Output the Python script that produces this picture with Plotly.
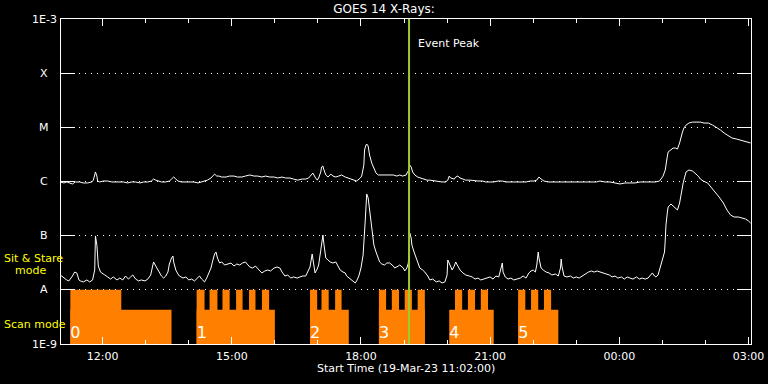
import math
import pandas as pd
import plotly.graph_objects as go

# ---------------- data (times in minutes after 2023-03-19 11:00 UT) ----------------
START = pd.Timestamp("2023-03-19 11:00:00")

long_min = [1, 6, 10, 14, 18, 22, 28, 33, 39, 45,
            47, 49, 50, 52, 53, 56, 61, 67, 73, 78,
            84, 89, 95, 100, 106, 112, 117, 123, 128, 131,
            134, 137, 142, 148, 153, 156, 159, 162, 165, 170,
            176, 181, 187, 193, 198, 204, 206, 211, 213, 216,
            219, 222, 226, 232, 237, 243, 248, 254, 259, 265,
            271, 276, 282, 287, 293, 299, 304, 310, 315, 321,
            326, 332, 338, 343, 347, 350, 353, 356, 359, 361,
            364, 365, 367, 368, 371, 374, 377, 378, 381, 385,
            389, 393, 398, 402, 406, 410, 414, 419, 421, 424,
            425, 427, 428, 430, 432, 435, 438, 441, 444, 448,
            453, 459, 465, 470, 474, 478, 483, 485, 487, 488,
            490, 492, 495, 499, 504, 508, 512, 516, 522, 527,
            533, 538, 541, 543, 545, 550, 552, 555, 558, 562,
            566, 572, 578, 583, 589, 594, 600, 605, 611, 617,
            622, 628, 633, 639, 644, 650, 656, 661, 665, 668,
            671, 675, 681, 686, 692, 698, 706, 714, 723, 731,
            739, 748, 753, 760, 767, 774, 781, 788, 795, 802,
            809, 816, 823, 830, 836, 838, 841, 844, 845, 847,
            848, 851, 855, 858, 861, 864, 866, 868, 870, 873,
            877, 882, 887, 893, 898, 904, 910, 915, 921, 926,
            932, 937, 943, 949, 954, 960, 963]
long_flux = [9.8e-7, 9.4e-7, 9.8e-7, 9.4e-7, 9.0e-7, 9.8e-7, 9.8e-7, 9.4e-7, 9.4e-7, 9.8e-7,
             1.06e-6, 1.32e-6, 1.50e-6, 1.26e-6, 1.02e-6, 9.8e-7, 1.02e-6, 1.02e-6, 9.8e-7, 9.8e-7,
             9.8e-7, 9.8e-7, 9.4e-7, 9.8e-7, 9.8e-7, 9.4e-7, 9.8e-7, 9.8e-7, 1.02e-6, 1.11e-6,
             1.06e-6, 1.02e-6, 9.8e-7, 9.8e-7, 1.02e-6, 1.11e-6, 1.21e-6, 1.11e-6, 1.02e-6, 9.8e-7,
             9.8e-7, 9.8e-7, 9.8e-7, 9.4e-7, 9.8e-7, 1.02e-6, 1.06e-6, 1.16e-6, 1.26e-6, 1.37e-6,
             1.26e-6, 1.26e-6, 1.21e-6, 1.21e-6, 1.26e-6, 1.26e-6, 1.21e-6, 1.21e-6, 1.26e-6, 1.32e-6,
             1.26e-6, 1.26e-6, 1.21e-6, 1.26e-6, 1.21e-6, 1.21e-6, 1.16e-6, 1.21e-6, 1.16e-6, 1.16e-6,
             1.11e-6, 1.06e-6, 1.11e-6, 1.11e-6, 1.16e-6, 1.26e-6, 1.43e-6, 1.21e-6, 1.06e-6, 1.16e-6,
             1.50e-6, 1.85e-6, 1.93e-6, 1.70e-6, 1.32e-6, 1.21e-6, 1.32e-6, 1.37e-6, 1.26e-6, 1.21e-6,
             1.26e-6, 1.32e-6, 1.21e-6, 1.16e-6, 1.11e-6, 1.06e-6, 1.02e-6, 1.16e-6, 1.26e-6, 2.01e-6,
             3.81e-6, 4.72e-6, 4.92e-6, 4.52e-6, 3.08e-6, 2.19e-6, 1.70e-6, 1.43e-6, 1.32e-6, 1.32e-6,
             1.32e-6, 1.32e-6, 1.32e-6, 1.26e-6, 1.32e-6, 1.26e-6, 1.32e-6, 1.50e-6, 1.63e-6, 2.01e-6,
             1.85e-6, 1.50e-6, 1.32e-6, 1.21e-6, 1.16e-6, 1.11e-6, 1.06e-6, 1.06e-6, 1.02e-6, 1.02e-6,
             9.8e-7, 9.8e-7, 1.06e-6, 1.26e-6, 1.16e-6, 1.11e-6, 1.21e-6, 1.26e-6, 1.16e-6, 1.11e-6,
             1.06e-6, 1.06e-6, 1.02e-6, 1.02e-6, 1.02e-6, 9.8e-7, 9.8e-7, 9.8e-7, 1.02e-6, 1.02e-6,
             9.8e-7, 9.8e-7, 9.8e-7, 9.8e-7, 9.8e-7, 9.8e-7, 1.02e-6, 1.02e-6, 1.06e-6, 1.21e-6,
             1.11e-6, 1.02e-6, 9.8e-7, 9.8e-7, 9.8e-7, 9.8e-7, 9.8e-7, 9.8e-7, 9.8e-7, 9.8e-7,
             9.8e-7, 9.8e-7, 1.02e-6, 9.8e-7, 9.8e-7, 9.4e-7, 9.0e-7, 9.4e-7, 9.4e-7, 9.4e-7,
             9.8e-7, 9.8e-7, 9.8e-7, 9.8e-7, 1.02e-6, 1.11e-6, 1.26e-6, 1.63e-6, 2.19e-6, 2.96e-6,
             3.50e-6, 3.81e-6, 4.15e-6, 4.15e-6, 3.98e-6, 5.14e-6, 6.9e-6, 8.2e-6, 9.7e-6, 1.10e-5,
             1.20e-5, 1.25e-5, 1.25e-5, 1.25e-5, 1.20e-5, 1.20e-5, 1.10e-5, 1.01e-5, 8.9e-6, 7.85e-6,
             6.9e-6, 6.35e-6, 6.1e-6, 5.83e-6, 5.58e-6, 5.36e-6, 5.14e-6]

short_min = [1, 4, 7, 10, 13, 15, 18, 21, 24, 27,
             29, 33, 38, 42, 46, 49, 50, 52, 54, 57,
             60, 63, 67, 71, 75, 80, 84, 88, 92, 96,
             99, 102, 106, 110, 114, 119, 123, 127, 130, 131,
             134, 137, 140, 142, 145, 148, 151, 153, 156, 158,
             159, 162, 165, 167, 172, 176, 180, 184, 188, 193,
             195, 198, 202, 205, 208, 211, 213, 216, 218, 220,
             223, 226, 230, 234, 239, 243, 247, 251, 255, 259,
             262, 265, 269, 273, 278, 282, 286, 290, 294, 299,
             303, 307, 310, 314, 318, 322, 326, 331, 335, 339,
             343, 346, 349, 352, 353, 356, 359, 361, 364, 367,
             368, 371, 374, 377, 381, 385, 388, 391, 395, 398,
             400, 405, 409, 412, 414, 417, 420, 423, 426, 427,
             428, 430, 433, 435, 438, 441, 444, 446, 449, 453,
             456, 460, 465, 467, 472, 474, 479, 481, 484, 486,
             487, 488, 490, 491, 494, 497, 499, 502, 506, 509,
             513, 516, 520, 525, 529, 533, 537, 540, 541, 544,
             547, 550, 552, 555, 558, 562, 566, 571, 575, 579,
             583, 587, 592, 596, 600, 604, 608, 612, 615, 617,
             618, 621, 625, 629, 633, 638, 642, 646, 650, 654,
             657, 660, 663, 665, 667, 668, 671, 674, 678, 682,
             686, 691, 695, 698, 699, 700, 703, 707, 712, 716,
             720, 724, 728, 732, 737, 741, 745, 749, 753, 758,
             762, 766, 770, 774, 778, 783, 787, 791, 795, 799,
             804, 808, 812, 816, 820, 823, 826, 829, 831, 834,
             837, 840, 843, 844, 845, 847, 848, 852, 855, 858,
             861, 864, 866, 869, 873, 877, 882, 886, 890, 893,
             897, 903, 908, 914, 919, 925, 930, 935, 940, 946,
             951, 956, 960, 963]
short_flux = [1.88e-8, 1.73e-8, 1.65e-8, 1.52e-8, 1.46e-8, 1.58e-8, 1.80e-8, 2.13e-8, 2.05e-8, 1.52e-8,
              1.46e-8, 1.40e-8, 1.52e-8, 1.40e-8, 1.52e-8, 2.32e-8, 9.9e-8, 6.7e-8, 2.75e-8, 2.13e-8,
              1.96e-8, 1.88e-8, 1.73e-8, 1.58e-8, 1.73e-8, 1.52e-8, 1.65e-8, 1.52e-8, 1.80e-8, 1.58e-8,
              1.73e-8, 1.88e-8, 1.58e-8, 1.46e-8, 1.52e-8, 1.46e-8, 1.58e-8, 1.88e-8, 2.87e-8, 3.27e-8,
              2.75e-8, 2.32e-8, 2.05e-8, 1.80e-8, 1.65e-8, 1.80e-8, 2.13e-8, 3.0e-8, 3.87e-8, 4.21e-8,
              3.27e-8, 2.32e-8, 1.96e-8, 1.80e-8, 1.65e-8, 1.73e-8, 1.52e-8, 1.58e-8, 1.46e-8, 1.73e-8,
              1.80e-8, 1.58e-8, 1.40e-8, 1.65e-8, 2.05e-8, 2.53e-8, 3.27e-8, 4.58e-8, 4.99e-8, 3.87e-8,
              3.13e-8, 3.27e-8, 2.87e-8, 3.0e-8, 3.13e-8, 2.75e-8, 3.0e-8, 2.87e-8, 3.13e-8, 3.27e-8,
              2.87e-8, 2.64e-8, 2.53e-8, 2.75e-8, 2.32e-8, 2.05e-8, 2.23e-8, 2.32e-8, 2.23e-8, 2.53e-8,
              2.64e-8, 2.53e-8, 2.13e-8, 1.80e-8, 1.88e-8, 1.65e-8, 1.73e-8, 1.65e-8, 1.73e-8, 1.80e-8,
              1.80e-8, 2.13e-8, 2.64e-8, 4.58e-8, 3.87e-8, 2.05e-8, 2.42e-8, 2.87e-8, 5.4e-8, 1.03e-7,
              7.6e-8, 3.87e-8, 3.56e-8, 3.27e-8, 3.13e-8, 3.27e-8, 2.75e-8, 2.32e-8, 2.13e-8, 2.05e-8,
              1.80e-8, 1.58e-8, 1.46e-8, 1.34e-8, 1.46e-8, 1.80e-8, 2.53e-8, 4.40e-8, 1.95e-7, 4.55e-7,
              5.87e-7, 4.96e-7, 2.40e-7, 1.27e-7, 6.7e-8, 4.99e-8, 3.87e-8, 3.27e-8, 3.0e-8, 2.87e-8,
              3.13e-8, 3.13e-8, 2.75e-8, 2.53e-8, 2.75e-8, 2.87e-8, 2.53e-8, 2.23e-8, 2.53e-8, 3.13e-8,
              5.4e-8, 1.12e-7, 9.05e-8, 6.7e-8, 4.99e-8, 3.87e-8, 3.13e-8, 2.53e-8, 2.32e-8, 2.13e-8,
              1.80e-8, 1.52e-8, 1.58e-8, 1.40e-8, 1.46e-8, 1.34e-8, 1.40e-8, 1.88e-8, 3.56e-8, 2.87e-8,
              2.32e-8, 2.75e-8, 3.27e-8, 2.75e-8, 2.32e-8, 2.05e-8, 1.88e-8, 1.80e-8, 1.73e-8, 1.58e-8,
              1.65e-8, 1.52e-8, 1.58e-8, 1.65e-8, 1.73e-8, 1.58e-8, 1.80e-8, 1.73e-8, 2.32e-8, 3.13e-8,
              2.13e-8, 1.73e-8, 1.58e-8, 1.65e-8, 1.52e-8, 1.58e-8, 1.65e-8, 1.80e-8, 1.65e-8, 2.05e-8,
              2.23e-8, 2.32e-8, 2.13e-8, 2.87e-8, 4.99e-8, 3.87e-8, 2.53e-8, 2.32e-8, 2.13e-8, 2.05e-8,
              1.88e-8, 1.96e-8, 1.80e-8, 2.53e-8, 3.71e-8, 2.75e-8, 1.80e-8, 1.73e-8, 1.80e-8, 1.65e-8,
              1.73e-8, 1.65e-8, 1.80e-8, 1.96e-8, 2.13e-8, 2.23e-8, 2.13e-8, 2.23e-8, 2.13e-8, 2.05e-8,
              1.96e-8, 1.88e-8, 1.73e-8, 1.80e-8, 1.65e-8, 1.73e-8, 1.58e-8, 1.73e-8, 1.65e-8, 1.58e-8,
              1.73e-8, 1.58e-8, 1.65e-8, 1.58e-8, 1.65e-8, 1.88e-8, 2.05e-8, 1.80e-8, 1.73e-8, 1.88e-8,
              2.64e-8, 3.56e-8, 4.99e-8, 8.3e-8, 1.57e-7, 2.73e-7, 3.38e-7, 3.84e-7, 3.53e-7, 3.24e-7,
              2.98e-7, 4.01e-7, 5.64e-7, 9.4e-7, 1.50e-6, 1.63e-6, 1.56e-6, 1.43e-6, 1.26e-6, 1.11e-6,
              1.02e-6, 9.4e-7, 7.91e-7, 6.4e-7, 5.17e-7, 4.01e-7, 2.98e-7, 2.40e-7, 2.21e-7, 2.21e-7,
              2.12e-7, 2.03e-7, 1.87e-7, 1.71e-7]

# observing-mode blocks (minutes after 11:00)
block_labels = ["0", "1", "2", "3", "4", "5"]
block_start = [15, 191, 349, 445, 543, 639]
block_end = [156, 300, 403, 509, 605, 695]
stare_start = [15, 191, 209, 227, 246, 264, 282, 349, 365, 384,
               445, 463, 481, 499, 551, 569, 587, 639, 657, 675]
stare_end = [86, 202, 220, 237, 255, 273, 292, 359, 375, 393,
             455, 473, 491, 509, 561, 579, 597, 649, 667, 685]
SCAN_LEVEL = 4.3e-9
STARE_LEVEL = 1e-8
BOTTOM = 1e-9

event_peak_min = 487
axis_start_min, axis_end_min = 2, 963.5

class_vals = [1e-9, 1e-8, 1e-7, 1e-6, 1e-5, 1e-4, 1e-3]
class_text = ["1E-9", "A", "B", "C", "M", "X", "1E-3"]

assert len(long_min) == len(long_flux)
assert len(short_min) == len(short_flux)


def to_time(mins):
    return [START + pd.Timedelta(minutes=m) for m in mins]


def rects(starts, ends, lo, hi):
    xs, ys = [], []
    for s, e in zip(to_time(starts), to_time(ends)):
        xs += [s, s, e, e, s, None]
        ys += [lo, hi, hi, lo, lo, None]
    return xs, ys


ORANGE = "#FF8000"
fig = go.Figure()

bx, by = rects(block_start, block_end, BOTTOM, SCAN_LEVEL)
fig.add_trace(go.Scatter(x=bx, y=by, mode="lines", fill="toself", fillcolor=ORANGE,
                         line=dict(width=0, color=ORANGE), hoverinfo="skip"))
sx, sy = rects(stare_start, stare_end, BOTTOM, STARE_LEVEL)
fig.add_trace(go.Scatter(x=sx, y=sy, mode="lines", fill="toself", fillcolor=ORANGE,
                         line=dict(width=0, color=ORANGE), hoverinfo="skip"))

fig.add_trace(go.Scatter(x=to_time(block_start), y=[1.55e-9] * len(block_start), mode="text",
                         text=block_labels, textposition="middle right",
                         textfont=dict(color="white", size=16, family="DejaVu Sans")))

fig.add_trace(go.Scatter(x=to_time(long_min), y=long_flux, mode="lines",
                         line=dict(color="white", width=1)))
fig.add_trace(go.Scatter(x=to_time(short_min), y=short_flux, mode="lines",
                         line=dict(color="white", width=1)))

peak_t = START + pd.Timedelta(minutes=event_peak_min)
fig.add_shape(type="line", xref="x", yref="paper", x0=peak_t, x1=peak_t, y0=0, y1=1,
              line=dict(color="#9ACD32", width=2), layer="above")
fig.add_annotation(x=peak_t, xref="x", y=0.926, yref="paper", text="Event Peak",
                   showarrow=False, xanchor="left", xshift=7, yanchor="middle",
                   font=dict(color="white", size=11))

# y labels (centered, like the original)
for v, t in zip(class_vals, class_text):
    fig.add_annotation(x=-0.024, xref="paper", y=math.log10(v), yref="y", text=t,
                       showarrow=False, xanchor="center", yanchor="middle",
                       font=dict(color="white", size=11))

fig.add_annotation(x=-0.086, xref="paper", y=0.264, yref="paper", text="Sit & Stare",
                   showarrow=False, xanchor="left", yanchor="middle",
                   font=dict(color="#FFFF00", size=11))
fig.add_annotation(x=-0.070, xref="paper", y=0.225, yref="paper", text="mode",
                   showarrow=False, xanchor="left", yanchor="middle",
                   font=dict(color="#FFFF00", size=11))
fig.add_annotation(x=-0.086, xref="paper", y=0.0615, yref="paper", text="Scan mode",
                   showarrow=False, xanchor="left", yanchor="middle",
                   font=dict(color="#FFFF00", size=11))
fig.add_annotation(x=0.5, xref="paper", y=-0.074, yref="paper",
                   text="Start Time (19-Mar-23 11:02:00)", showarrow=False,
                   xanchor="center", yanchor="middle", font=dict(color="white", size=11))

fig.update_layout(
    width=768, height=384,
    margin=dict(l=61, r=17, t=19, b=40, autoexpand=False),
    paper_bgcolor="black", plot_bgcolor="black",
    showlegend=False,
    font=dict(family="DejaVu Sans", color="white", size=11),
    title=dict(text="GOES 14 X-Rays:", x=0.5, xanchor="center", y=1 - 9 / 384,
               yanchor="middle", font=dict(size=12, color="white")),
    xaxis=dict(
        type="date", automargin=False,
        range=to_time([axis_start_min, axis_end_min]),
        showgrid=False, zeroline=False,
        showline=True, linecolor="white", linewidth=1, mirror="ticks",
        ticks="inside", ticklen=7, tickcolor="white", tickwidth=1,
        tick0="2023-03-19 00:00", dtick=3 * 3600000, tickformat="%H:%M",
        tickfont=dict(size=11, color="white"), ticklabelstandoff=2,
        minor=dict(dtick=3600000, ticks="inside", ticklen=4, tickcolor="white",
                   showgrid=False),
    ),
    yaxis=dict(
        type="log", range=[-9, -3], automargin=False,
        tickvals=class_vals, showticklabels=False,
        ticks="inside", ticklen=14, tickcolor="white", tickwidth=1,
        showline=True, linecolor="white", linewidth=1, mirror="ticks",
        showgrid=True, gridcolor="white", gridwidth=1, griddash="1px,5px",
        zeroline=False,
    ),
)

fig.write_html("out.html")
